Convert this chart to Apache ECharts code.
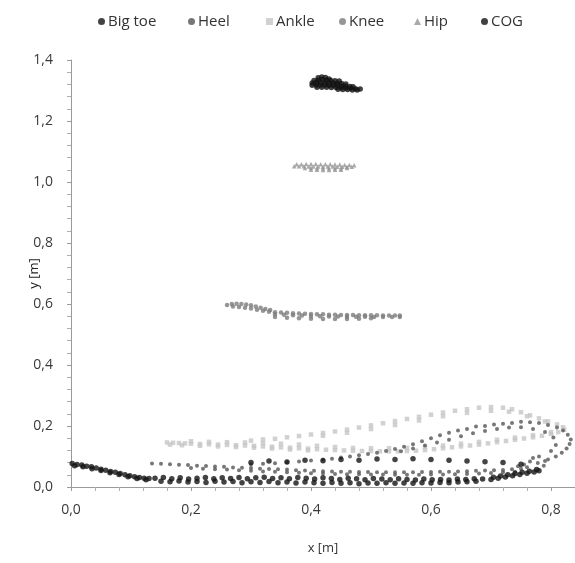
<!DOCTYPE html>
<html>
<head>
<meta charset="utf-8">
<title>Gait trajectories</title>
<script src="https://cdn.jsdelivr.net/npm/echarts@6/dist/echarts.min.js"></script>
<style>
  html, body { margin: 0; padding: 0; background: #fff; }
  #main { width: 575px; height: 563px; }
</style>
</head>
<body>
<div id="main"></div>
<script>
// tick labels
var xTicks = [0, 0.2, 0.4, 0.6, 0.8];
var yTicks = [0, 0.2, 0.4, 0.6, 0.8, 1.0, 1.2, 1.4];

// marker trajectories [x, y] in metres
var bigToe = [
  [0.002, 0.077], [0.01, 0.074], [0.018, 0.072], [0.026, 0.068], [0.034, 0.066], [0.042, 0.062],
  [0.05, 0.058], [0.058, 0.055], [0.066, 0.051], [0.074, 0.048], [0.082, 0.044], [0.09, 0.04],
  [0.098, 0.037], [0.106, 0.034], [0.114, 0.031], [0.122, 0.029], [0.13, 0.028],
  [0.006, 0.07], [0.02, 0.066], [0.035, 0.06], [0.05, 0.054], [0.065, 0.047], [0.08, 0.041],
  [0.095, 0.034], [0.11, 0.028], [0.125, 0.024],
  // stance, upper row
  [0.14, 0.029], [0.154, 0.031], [0.168, 0.027], [0.182, 0.03], [0.196, 0.026], [0.21, 0.029],
  [0.224, 0.031], [0.238, 0.027], [0.252, 0.03], [0.266, 0.028], [0.28, 0.031], [0.294, 0.027],
  [0.308, 0.03], [0.322, 0.032], [0.336, 0.028], [0.35, 0.03], [0.364, 0.027], [0.378, 0.031],
  [0.392, 0.029], [0.406, 0.026], [0.42, 0.03], [0.434, 0.028], [0.448, 0.025], [0.462, 0.029],
  [0.476, 0.027], [0.49, 0.024], [0.504, 0.028], [0.518, 0.026], [0.532, 0.024], [0.546, 0.027],
  [0.56, 0.025], [0.574, 0.023], [0.588, 0.026], [0.602, 0.024], [0.616, 0.025], [0.63, 0.023],
  [0.644, 0.026], [0.658, 0.025], [0.672, 0.027], [0.686, 0.026],
  // stance, lower row
  [0.15, 0.019], [0.165, 0.017], [0.18, 0.02], [0.195, 0.016], [0.21, 0.018], [0.225, 0.015],
  [0.24, 0.019], [0.255, 0.016], [0.27, 0.018], [0.285, 0.014], [0.3, 0.017], [0.315, 0.015],
  [0.33, 0.018], [0.345, 0.014], [0.36, 0.016], [0.375, 0.013], [0.39, 0.016], [0.405, 0.014],
  [0.42, 0.012], [0.435, 0.015], [0.45, 0.012], [0.465, 0.014], [0.48, 0.011], [0.495, 0.013],
  [0.51, 0.012], [0.525, 0.014], [0.54, 0.012], [0.555, 0.013], [0.57, 0.012], [0.585, 0.014],
  [0.6, 0.013], [0.615, 0.015], [0.63, 0.014], [0.645, 0.016], [0.66, 0.017], [0.675, 0.019],
  // toe off
  [0.7, 0.025], [0.712, 0.029], [0.724, 0.033], [0.736, 0.037], [0.748, 0.041], [0.76, 0.045],
  [0.772, 0.049], [0.78, 0.053], [0.776, 0.057], [0.764, 0.052], [0.752, 0.048], [0.74, 0.044],
  [0.728, 0.04], [0.716, 0.036], [0.704, 0.032],
  // swing, middle row
  [0.3, 0.08], [0.33, 0.085], [0.36, 0.082], [0.39, 0.088], [0.42, 0.086], [0.45, 0.09],
  [0.48, 0.088], [0.51, 0.092], [0.54, 0.09], [0.57, 0.093], [0.6, 0.09], [0.63, 0.088],
  [0.66, 0.085], [0.69, 0.083], [0.72, 0.08], [0.75, 0.075]
];

var heel = [
  // stance band
  [0.135, 0.077], [0.15, 0.076], [0.165, 0.075], [0.18, 0.073], [0.195, 0.072], [0.21, 0.07],
  [0.225, 0.069], [0.24, 0.067], [0.255, 0.066], [0.27, 0.064], [0.285, 0.063], [0.3, 0.062],
  [0.315, 0.06], [0.33, 0.059], [0.345, 0.058], [0.36, 0.057], [0.375, 0.055], [0.39, 0.054],
  [0.405, 0.053], [0.42, 0.052], [0.435, 0.051], [0.45, 0.05], [0.465, 0.05], [0.48, 0.049],
  [0.495, 0.049], [0.51, 0.048], [0.525, 0.048], [0.54, 0.048], [0.555, 0.048], [0.57, 0.048],
  [0.585, 0.049], [0.6, 0.049], [0.615, 0.05], [0.63, 0.05], [0.645, 0.051], [0.66, 0.052],
  [0.675, 0.053], [0.69, 0.054], [0.705, 0.055], [0.72, 0.056], [0.735, 0.058], [0.75, 0.06],
  [0.2, 0.062], [0.22, 0.06], [0.24, 0.058], [0.26, 0.057], [0.28, 0.055], [0.3, 0.053],
  [0.32, 0.051], [0.34, 0.05], [0.36, 0.048], [0.38, 0.047], [0.4, 0.045], [0.42, 0.044],
  [0.44, 0.043], [0.46, 0.042], [0.48, 0.042], [0.5, 0.041], [0.52, 0.041], [0.54, 0.04],
  [0.56, 0.04], [0.58, 0.04], [0.6, 0.041], [0.62, 0.041], [0.64, 0.042], [0.66, 0.043],
  [0.68, 0.044], [0.7, 0.046], [0.72, 0.048], [0.74, 0.05],
  // heel rise and swing arc
  [0.745, 0.068], [0.755, 0.074], [0.765, 0.084], [0.778, 0.079], [0.788, 0.07], [0.795, 0.09],
  [0.808, 0.1], [0.818, 0.112], [0.826, 0.126], [0.831, 0.141], [0.833, 0.156], [0.828, 0.171],
  [0.82, 0.185], [0.81, 0.195], [0.795, 0.203], [0.78, 0.21], [0.765, 0.212], [0.75, 0.214],
  [0.735, 0.21], [0.72, 0.207], [0.705, 0.205], [0.69, 0.2], [0.675, 0.198], [0.66, 0.19],
  [0.645, 0.185], [0.63, 0.178], [0.615, 0.17], [0.6, 0.16], [0.585, 0.15], [0.57, 0.14],
  [0.555, 0.132], [0.54, 0.125], [0.525, 0.118], [0.51, 0.112], [0.495, 0.108], [0.48, 0.104],
  [0.465, 0.1], [0.45, 0.097], [0.435, 0.093], [0.42, 0.09], [0.4, 0.087], [0.38, 0.084],
  [0.36, 0.081], [0.34, 0.078], [0.32, 0.076], [0.3, 0.074],
  [0.8, 0.118], [0.808, 0.138], [0.804, 0.162], [0.79, 0.18], [0.77, 0.19], [0.75, 0.196],
  [0.73, 0.195], [0.71, 0.19], [0.69, 0.184], [0.67, 0.176], [0.65, 0.166], [0.63, 0.155],
  [0.61, 0.146], [0.59, 0.136], [0.57, 0.126], [0.55, 0.117], [0.78, 0.1], [0.79, 0.085],
  [0.77, 0.095], [0.76, 0.065]
];

var ankle = [
  // lower band
  [0.16, 0.146], [0.17, 0.145], [0.18, 0.144], [0.19, 0.143], [0.2, 0.142], [0.215, 0.141],
  [0.23, 0.14], [0.245, 0.139], [0.26, 0.138], [0.275, 0.137], [0.29, 0.136], [0.305, 0.135],
  [0.32, 0.133], [0.335, 0.132], [0.35, 0.13], [0.365, 0.129], [0.38, 0.127], [0.395, 0.126],
  [0.41, 0.124], [0.425, 0.122], [0.44, 0.121], [0.455, 0.12], [0.47, 0.119], [0.485, 0.118],
  [0.5, 0.118], [0.515, 0.117], [0.53, 0.117], [0.545, 0.117], [0.56, 0.118], [0.575, 0.119],
  [0.59, 0.121], [0.605, 0.124], [0.62, 0.127], [0.635, 0.13], [0.65, 0.133], [0.665, 0.136],
  [0.68, 0.139], [0.695, 0.143], [0.71, 0.147], [0.725, 0.151], [0.74, 0.155], [0.755, 0.159],
  [0.77, 0.163], [0.785, 0.168], [0.8, 0.174], [0.812, 0.18], [0.822, 0.188],
  [0.165, 0.139], [0.2, 0.15], [0.23, 0.148], [0.26, 0.147], [0.29, 0.146], [0.32, 0.144],
  [0.35, 0.142], [0.38, 0.139], [0.41, 0.135], [0.44, 0.131], [0.47, 0.128], [0.5, 0.127],
  [0.53, 0.127], [0.56, 0.128], [0.59, 0.131], [0.62, 0.136], [0.65, 0.142], [0.68, 0.148],
  [0.71, 0.155], [0.74, 0.162], [0.77, 0.17], [0.8, 0.18],
  [0.185, 0.137], [0.215, 0.135], [0.245, 0.133], [0.275, 0.131], [0.305, 0.129], [0.335, 0.126],
  [0.365, 0.123], [0.395, 0.12],
  // upper arc
  [0.3, 0.152], [0.32, 0.156], [0.34, 0.158], [0.36, 0.163], [0.38, 0.167], [0.4, 0.172],
  [0.42, 0.177], [0.44, 0.182], [0.46, 0.188], [0.48, 0.195], [0.5, 0.202], [0.52, 0.209],
  [0.54, 0.216], [0.56, 0.223], [0.58, 0.23], [0.6, 0.237], [0.62, 0.244], [0.64, 0.25],
  [0.66, 0.255], [0.68, 0.26], [0.7, 0.262], [0.72, 0.26], [0.735, 0.255], [0.75, 0.245],
  [0.765, 0.235], [0.78, 0.225], [0.795, 0.215], [0.81, 0.205], [0.82, 0.196],
  [0.42, 0.168], [0.46, 0.178], [0.5, 0.19], [0.54, 0.203], [0.58, 0.218], [0.62, 0.232],
  [0.66, 0.243], [0.7, 0.25], [0.73, 0.247], [0.76, 0.232], [0.79, 0.215]
];

var knee = [
  [0.26, 0.597], [0.268, 0.6], [0.276, 0.601], [0.284, 0.6], [0.292, 0.598], [0.3, 0.596],
  [0.308, 0.592], [0.316, 0.588], [0.324, 0.584], [0.332, 0.58],
  [0.27, 0.592], [0.28, 0.59], [0.29, 0.588], [0.3, 0.585], [0.31, 0.581], [0.32, 0.578],
  [0.33, 0.575], [0.34, 0.573], [0.35, 0.572], [0.36, 0.571], [0.37, 0.57], [0.38, 0.569],
  [0.39, 0.568], [0.4, 0.567], [0.41, 0.566], [0.42, 0.566], [0.43, 0.565], [0.44, 0.565],
  [0.45, 0.564], [0.46, 0.564], [0.47, 0.564], [0.48, 0.563], [0.49, 0.563], [0.5, 0.563],
  [0.51, 0.563], [0.52, 0.562], [0.53, 0.562], [0.54, 0.562], [0.548, 0.562],
  [0.34, 0.566], [0.355, 0.565], [0.37, 0.563], [0.385, 0.562], [0.4, 0.561], [0.415, 0.56],
  [0.43, 0.559], [0.445, 0.559], [0.46, 0.558], [0.475, 0.558], [0.49, 0.558], [0.505, 0.557],
  [0.52, 0.557], [0.535, 0.557], [0.548, 0.557],
  [0.34, 0.557], [0.36, 0.555], [0.38, 0.553], [0.4, 0.552], [0.42, 0.551], [0.44, 0.551],
  [0.46, 0.551], [0.48, 0.552], [0.5, 0.553]
];

var hip = [
  [0.376, 1.058], [0.384, 1.058], [0.392, 1.059], [0.4, 1.059], [0.408, 1.059], [0.416, 1.058],
  [0.424, 1.058], [0.432, 1.058], [0.44, 1.057], [0.448, 1.057], [0.456, 1.056], [0.464, 1.056],
  [0.472, 1.055],
  [0.372, 1.052], [0.38, 1.052], [0.388, 1.052], [0.396, 1.051], [0.404, 1.051], [0.412, 1.051],
  [0.42, 1.051], [0.428, 1.051], [0.436, 1.051], [0.444, 1.05], [0.452, 1.05], [0.46, 1.05],
  [0.468, 1.05],
  [0.39, 1.046], [0.4, 1.046], [0.41, 1.045], [0.42, 1.045], [0.43, 1.045], [0.44, 1.045],
  [0.45, 1.045], [0.46, 1.046],
  [0.4, 1.04], [0.41, 1.04], [0.42, 1.039], [0.43, 1.039], [0.44, 1.04], [0.45, 1.04]
];

var cog = [
  [0.412, 1.342], [0.418, 1.344], [0.424, 1.343], [0.43, 1.338],
  [0.405, 1.333], [0.412, 1.334], [0.419, 1.335], [0.426, 1.334], [0.433, 1.333], [0.44, 1.332],
  [0.447, 1.331],
  [0.402, 1.325], [0.409, 1.326], [0.416, 1.326], [0.423, 1.326], [0.43, 1.325], [0.437, 1.325],
  [0.444, 1.324], [0.451, 1.323], [0.458, 1.321],
  [0.402, 1.317], [0.409, 1.318], [0.416, 1.318], [0.423, 1.318], [0.43, 1.317], [0.437, 1.317],
  [0.444, 1.316], [0.451, 1.315], [0.458, 1.314], [0.465, 1.313], [0.47, 1.312],
  [0.41, 1.311], [0.418, 1.311], [0.426, 1.311], [0.434, 1.31], [0.442, 1.31], [0.45, 1.309],
  [0.458, 1.308], [0.466, 1.307], [0.474, 1.306], [0.482, 1.305],
  [0.445, 1.304], [0.453, 1.303], [0.461, 1.303], [0.469, 1.302], [0.477, 1.302]
];

var seriesNames = ['Big toe', 'Heel', 'Ankle', 'Knee', 'Hip', 'COG'];
var legendIcons = ['circle', 'circle', 'rect', 'circle', 'triangle', 'circle'];
var legendLeft = [93, 183, 261, 334, 409, 476];

var myChart = echarts.init(document.getElementById('main'), null, { renderer: 'canvas' });

function commaLabel(v) {
  // only the 0.2 steps carry a label
  if (Math.abs(v * 5 - Math.round(v * 5)) > 1e-6) return '';
  return v.toFixed(1).replace('.', ',');
}

// one legend per entry so each sits where the original put it
var legends = [];
for (var i = 0; i < seriesNames.length; i++) {
  legends.push({
    top: 9,
    left: legendLeft[i],
    itemWidth: 7,
    itemHeight: 7,
    textStyle: { fontFamily: 'Open Sans', fontSize: 15, color: '#333', padding: [0, 0, 0, -2] },
    data: [{ name: seriesNames[i], icon: legendIcons[i] }]
  });
}

var option = {
  backgroundColor: '#fff',
  animation: false,
  legend: legends,
  grid: { left: 71, right: 0, top: 60, bottom: 76 },
  xAxis: {
    type: 'value',
    min: 0,
    max: 0.84,
    interval: 0.2,
    name: 'x [m]',
    nameLocation: 'middle',
    nameGap: 55,
    nameMoveOverlap: false,
    nameTextStyle: { fontFamily: 'Open Sans', fontSize: 13, color: '#333' },
    axisLine: { show: true, lineStyle: { color: '#9a9a9a' } },
    axisTick: { show: true, length: 4, lineStyle: { color: '#9a9a9a' } },
    minorTick: { show: true, splitNumber: 5, length: 4, lineStyle: { color: '#b0b0b0' } },
    axisLabel: { margin: 16, formatter: commaLabel, showMaxLabel: false, fontFamily: 'Open Sans', fontSize: 14, color: '#3a3a3a' },
    splitLine: { show: false }
  },
  yAxis: {
    type: 'value',
    min: 0,
    max: 1.4,
    interval: 0.2,
    name: 'y [m]',
    nameLocation: 'middle',
    nameGap: 30,
    nameRotate: 90,
    nameMoveOverlap: false,
    nameTextStyle: { fontFamily: 'Open Sans', fontSize: 13, color: '#222' },
    axisLine: { show: true, lineStyle: { color: '#9a9a9a' } },
    axisTick: { show: true, length: 4, lineStyle: { color: '#9a9a9a' } },
    minorTick: { show: true, splitNumber: 5, length: 4, lineStyle: { color: '#b0b0b0' } },
    axisLabel: { margin: 18, formatter: commaLabel, fontFamily: 'Open Sans', fontSize: 14, color: '#3a3a3a' },
    splitLine: { show: false }
  },
  series: [
    { name: 'Big toe', type: 'scatter', data: bigToe, symbol: 'circle', symbolSize: 5.5, z: 5,
      itemStyle: { color: '#141414' } },
    { name: 'Heel', type: 'scatter', data: heel, symbol: 'circle', symbolSize: 4, z: 4,
      itemStyle: { color: '#555' } },
    { name: 'Ankle', type: 'scatter', data: ankle, symbol: 'rect', symbolSize: 4.5, z: 3,
      itemStyle: { color: '#c6c6c6' } },
    { name: 'Knee', type: 'scatter', data: knee, symbol: 'circle', symbolSize: 4.5,
      itemStyle: { color: '#7c7c7c' } },
    { name: 'Hip', type: 'scatter', data: hip, symbol: 'triangle', symbolSize: 4.5,
      itemStyle: { color: '#939393' } },
    { name: 'COG', type: 'scatter', data: cog, symbol: 'circle', symbolSize: 5.5,
      itemStyle: { color: '#111' } }
  ]
};

myChart.setOption(option);
</script>
</body>
</html>
